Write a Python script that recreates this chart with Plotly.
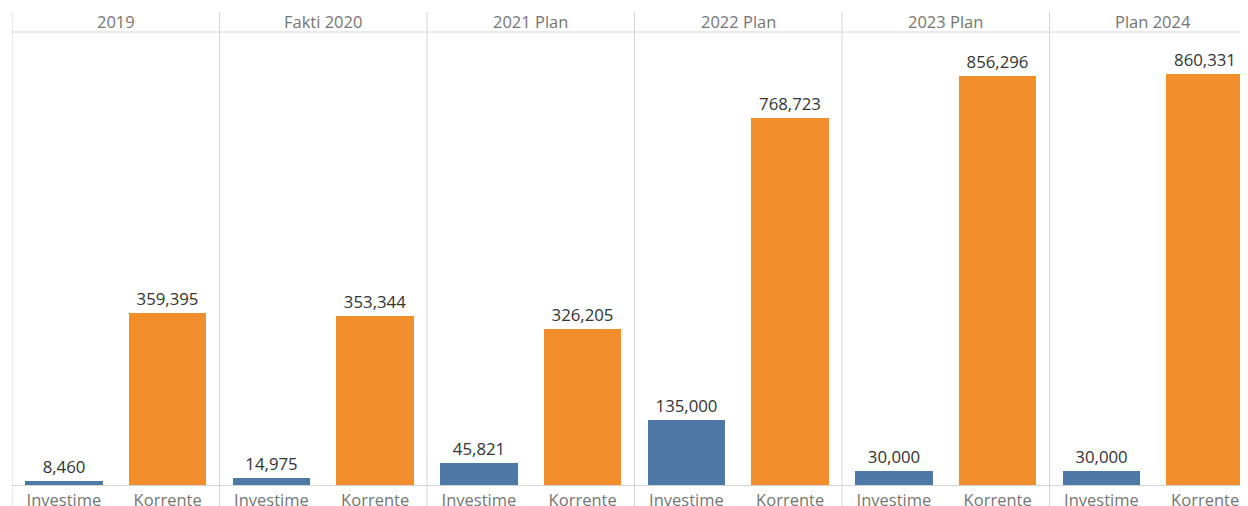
import plotly.graph_objects as go

panels = ["2019", "Fakti 2020", "2021 Plan", "2022 Plan", "2023 Plan", "Plan 2024"]
categories = ["Investime", "Korrente"]
investime = [8460, 14975, 45821, 135000, 30000, 30000]
korrente = [359395, 353344, 326205, 768723, 856296, 860331]

colors = {"Investime": "#4e79a7", "Korrente": "#f28e2b"}
# page body has an 8px margin; compensate so the plot lands where the reference has it
W, H = 1240, 498
ml, mt, mb = 4, 24, 21
unit_px = 207.5 / 2
x_right = -0.5 + (W - ml) / unit_px
plot_h = H - mt - mb

fig = go.Figure()
for ci, (cat, vals) in enumerate(zip(categories, [investime, korrente])):
    xs = [2 * p + ci for p in range(len(panels))]
    fig.add_trace(go.Bar(
        x=xs, y=vals, name=cat, marker_color=colors[cat], width=0.745,
        texttemplate="%{y:,}", textposition="outside", cliponaxis=False,
        textfont=dict(size=16.8, color="#333333", family="Open Sans"),
        marker_line_width=0, showlegend=False,
    ))

tickvals = [2 * p + c for p in range(len(panels)) for c in range(len(categories))]
ticktext = [categories[c] for p in range(len(panels)) for c in range(len(categories))]

shapes = []
for p in range(len(panels)):
    xpos = 2 * p - 0.5
    shapes.append(dict(type="line", xref="x", yref="paper", x0=xpos, x1=xpos,
                       y0=-(mb + 10) / plot_h, y1=1 + 20 / plot_h,
                       line=dict(color="#d4d4d4", width=1)))
shapes.append(dict(type="line", xref="paper", yref="paper", x0=0, x1=1, y0=1, y1=1,
                   line=dict(color="#d4d4d4", width=1)))

annotations = []
for p, name in enumerate(panels):
    annotations.append(dict(x=2 * p + 0.5, xref="x", y=1, yref="paper", yanchor="middle",
                            yshift=11, text=name, showarrow=False,
                            font=dict(size=16.5, color="#757575", family="Open Sans")))

fig.update_layout(
    width=W, height=H, margin=dict(l=ml, r=0, t=mt, b=mb),
    plot_bgcolor="white", paper_bgcolor="white",
    shapes=shapes, annotations=annotations, bargap=0,
    xaxis=dict(range=[-0.5, x_right], tickvals=tickvals, ticktext=ticktext,
               showgrid=False, zeroline=False, showline=True, linecolor="#d4d4d4",
               ticks="", tickfont=dict(size=16.5, color="#757575", family="Open Sans"),
               fixedrange=True, automargin=False),
    yaxis=dict(range=[0, 948000], visible=False, showgrid=False, fixedrange=True,
               automargin=False),
)
fig.write_html("out.html")
